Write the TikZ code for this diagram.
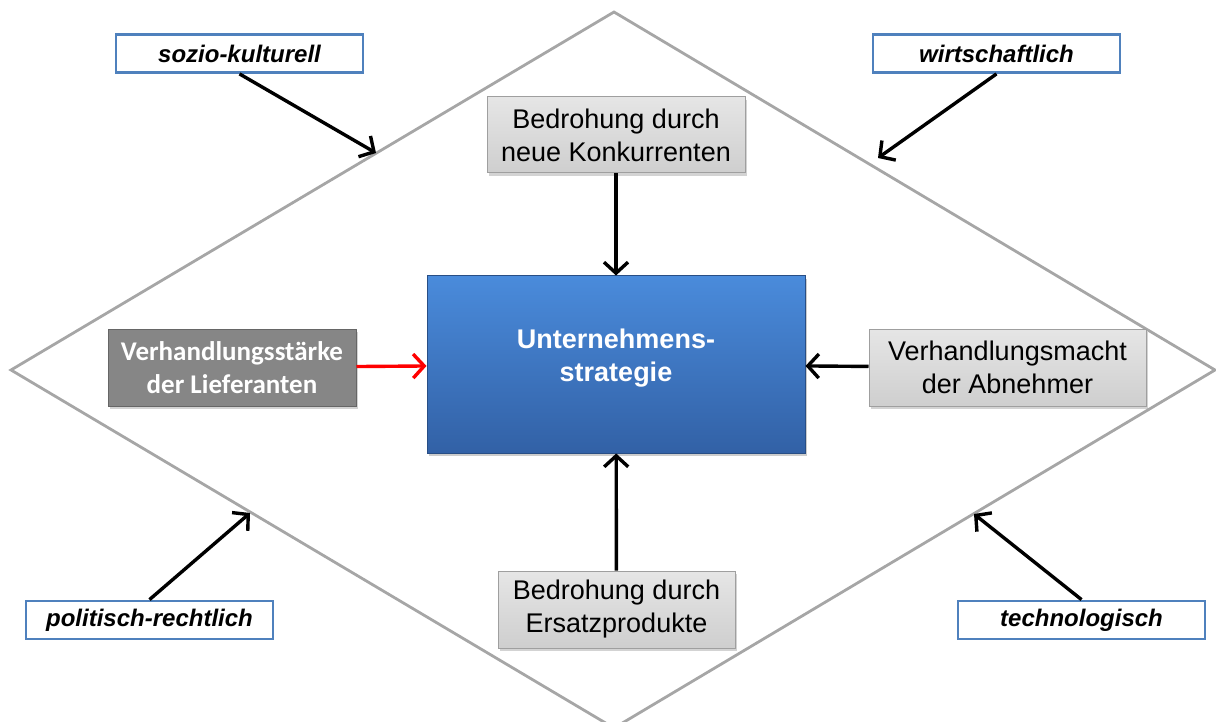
\documentclass[tikz,border=0pt]{standalone}
\usepackage{fontspec}
\setmainfont{Liberation Sans}
\newfontfamily\calibrifont{Carlito}
\usetikzlibrary{arrows.meta,shadows}
\definecolor{framegray}{HTML}{A6A6A6}
\definecolor{labelblue}{HTML}{4F81BD}
\definecolor{stratop}{HTML}{4A8BDB}
\definecolor{stratbot}{HTML}{3261A6}
\begin{document}
\begin{tikzpicture}[x=1pt,y=-1pt,
    force/.style={draw=gray!75, line width=1pt, top color=gray!20, bottom color=gray!38,
      drop shadow={opacity=0.35, shadow xshift=2pt, shadow yshift=-3pt},
      align=center, inner sep=0pt, font=\fontsize{27}{33}\selectfont},
    envlabel/.style={draw=labelblue, line width=2.8pt, fill=white, inner sep=0pt,
      minimum width=247pt, minimum height=38pt, font=\fontsize{24}{28}\selectfont\bfseries\itshape},
    arr/.style={line width=3.4pt, -{Straight Barb[length=11pt,width=24pt]}}]
  \useasboundingbox (0,0) rectangle (1216,722);

  % Environment frame
  \draw[framegray, line width=2.8pt] (614,12) -- (1215,370) -- (614,728) -- (11,370) -- cycle;

  % Central box
  \node[draw=stratbot!80!black, line width=1pt, top color=stratop, bottom color=stratbot,
    drop shadow={opacity=0.4, shadow xshift=2pt, shadow yshift=-3pt},
    minimum width=378pt, minimum height=177pt, text=white,
    font=\fontsize{27}{33}\selectfont\bfseries] (strat) at (616,364.5)
    {\begin{tabular}{@{}c@{}}Unternehmens-\\strategie\end{tabular}\rule[-39pt]{0pt}{39pt}};

  % Five forces
  \node[force, minimum width=258pt, minimum height=76pt] (konk) at (616,135) {Bedrohung durch\\neue Konkurrenten};
  \node[force, minimum width=237pt, minimum height=77pt] (ersatz) at (616.5,609.5) {Bedrohung durch\\Ersatzprodukte};
  \node[force, minimum width=277pt, minimum height=77pt] (abn) at (1007.5,367.5) {Verhandlungsmacht\\der Abnehmer};
  \node[force, draw=gray!80!black, top color=gray!95, bottom color=gray!105!black, text=white,
    minimum width=248pt, minimum height=77pt, font=\fontsize{27}{33}\selectfont\calibrifont\bfseries] (lief) at (232,367.5) {Verhandlungsstärke\\der Lieferanten};

  % Environment labels
  \node[envlabel] (sozio) at (239.5,53.5) {sozio-kulturell};
  \node[envlabel] (wirt) at (996.5,53.5) {wirtschaftlich};
  \node[envlabel] (polit) at (149.5,620) {politisch-rechtlich};
  \node[envlabel] (techn) at (1081.5,620) {technologisch};

  \coordinate (sozioend) at (376,153);
  \coordinate (wirtend) at (878,158);
  \coordinate (politend) at (250,513);
  \coordinate (technend) at (974,514);

  % Connections
  \draw[arr] (konk) -- (strat);
  \draw[arr] (ersatz) -- (strat);
  \draw[arr] (abn) -- (strat);
  \draw[arr, red] (lief) -- (strat);
  \draw[arr] (sozio.south) -- (sozioend);
  \draw[arr] (wirt.south) -- (wirtend);
  \draw[arr] (polit.north) -- (politend);
  \draw[arr] (techn.north) -- (technend);
\end{tikzpicture}
\end{document}
